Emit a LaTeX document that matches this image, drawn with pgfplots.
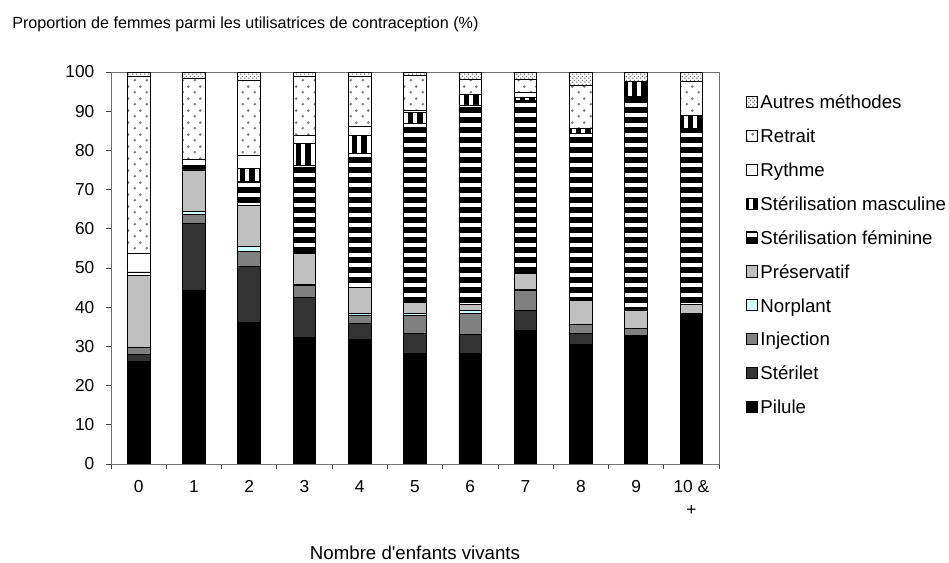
\documentclass[border=0pt]{standalone}
\usepackage{fontspec}
\setmainfont{Liberation Sans}
\usepackage{pgfplots}
\pgfplotsset{compat=1.18}
\usepackage{pgfplotstable}
\usetikzlibrary{patterns}

\pgfdeclarepatternformonly{hstripes}{\pgfqpoint{-0.2pt}{0pt}}{\pgfqpoint{3.2pt}{7.5pt}}{\pgfqpoint{3pt}{7.5pt}}{%
  \pgfpathrectangle{\pgfqpoint{-0.2pt}{0pt}}{\pgfqpoint{3.4pt}{4.5pt}}\pgfusepath{fill}}
\pgfdeclarepatternformonly{vstripes}{\pgfqpoint{0pt}{-0.2pt}}{\pgfqpoint{7pt}{3.2pt}}{\pgfqpoint{7pt}{3pt}}{%
  \pgfpathrectangle{\pgfqpoint{2pt}{-0.2pt}}{\pgfqpoint{3pt}{3.4pt}}\pgfusepath{fill}}
\pgfdeclarepatternformonly{sparsedots}{\pgfqpoint{0pt}{0pt}}{\pgfqpoint{9pt}{9pt}}{\pgfqpoint{9pt}{9pt}}{%
  \pgfpathcircle{\pgfqpoint{2.25pt}{2.25pt}}{1.2pt}\pgfpathcircle{\pgfqpoint{6.75pt}{6.75pt}}{1.2pt}\pgfusepath{fill}}
\pgfdeclarepatternformonly{densedots}{\pgfqpoint{0pt}{0pt}}{\pgfqpoint{3pt}{3pt}}{\pgfqpoint{3pt}{3pt}}{%
  \pgfpathcircle{\pgfqpoint{0.75pt}{0.75pt}}{0.7pt}\pgfpathcircle{\pgfqpoint{2.25pt}{2.25pt}}{0.7pt}\pgfusepath{fill}}

\definecolor{cSterilet}{HTML}{333333}
\definecolor{cInjection}{HTML}{808080}
\definecolor{cNorplant}{HTML}{CCFFFF}
\definecolor{cPreserv}{HTML}{C0C0C0}

\pgfplotstableread{
x pil ste inj nor pre fem mas ryt ret aut
0 26.1 1.9 1.8 0 18.4 0.8 0 4.7 45.3 1.0
1 44.4 17.0 2.3 0.7 10.6 0.8 0.3 1.5 20.8 1.6
2 36.0 14.5 3.7 1.2 10.5 6.1 3.4 3.2 19.2 2.2
3 32.2 10.2 3.1 0.4 7.8 22.5 5.6 2.0 15.0 1.2
4 31.8 4.1 2.1 0.3 6.7 34.3 4.4 2.4 12.7 1.2
5 28.2 5.1 4.7 0.3 2.9 45.7 2.7 0.6 9.0 0.8
6 28.2 4.9 5.3 0.7 1.5 51.0 2.6 0.2 3.6 2.0
7 34.0 5.1 5.3 0.2 4.0 44.1 0.8 1.2 3.5 1.8
8 30.4 2.8 2.3 0 6.2 42.7 1.2 0 11.1 3.3
9 32.9 0 1.7 0 4.7 54.4 3.8 0 0 2.5
10 38.4 0 0 0 2.2 45.0 3.4 0 8.5 2.5
}\data

\newcommand{\titlefont}{\fontsize{12.1}{14.5}\selectfont}
\newcommand{\tickfont}{\fontsize{13}{17}\selectfont}
\newcommand{\bigfont}{\fontsize{14}{16.8}\selectfont}

\begin{document}
\begin{tikzpicture}
\useasboundingbox (0,0) rectangle (711.75pt,422.25pt);
\node[anchor=west, font=\titlefont, inner sep=0pt] at (9pt,404pt) {Proportion de femmes parmi les utilisatrices de contraception (\%)};
\begin{axis}[
  at={(83.25pt,74.25pt)}, anchor=south west,
  scale only axis, width=456pt, height=294pt,
  font=\tickfont,
  /pgf/number format/assume math mode=true,
  ybar stacked, bar width=17pt,
  xmin=-0.5, xmax=10.5, ymin=0, ymax=100,
  xtick={0,...,10},
  xticklabels={0,1,2,3,4,5,6,7,8,9,{10 \&\\+}},
  xticklabel style={align=center, yshift=-5pt},
  minor xtick={-0.5,0.5,...,10.5},
  major x tick style={draw=none},
  ytick={0,10,...,100},
  yticklabel style={xshift=-5pt},
  tick align=outside,
  xtick pos=bottom, ytick pos=left,
  major tick length=4pt, minor tick length=4pt,
  tick style={black!75, line width=0.6pt},
  axis line style={black!55, line width=0.6pt},
  xlabel={Nombre d\textquotesingle enfants vivants},
  xlabel style={font=\bigfont, at={(axis description cs:0.5,-0.227)}, anchor=center},
  every axis plot/.append style={draw=black, line width=0.6pt},
  reverse legend,
  legend cell align=left,
  legend image code/.code={\draw[#1, line width=0.6pt] (0pt,-2.5pt) rectangle (8.3pt,5.8pt); \path (9.6pt,0pt);},
  legend style={font=\bigfont, at={(1.037,0.95)}, anchor=north west, draw=none, fill=none,
    row sep=10.8pt, nodes={inner sep=0.8pt, text height=10pt, text depth=3pt, anchor=west}},
]
\addplot[fill=black] table[x=x, y=pil] {\data};
\addplot[fill=cSterilet] table[x=x, y=ste] {\data};
\addplot[fill=cInjection] table[x=x, y=inj] {\data};
\addplot[fill=cNorplant] table[x=x, y=nor] {\data};
\addplot[fill=cPreserv] table[x=x, y=pre] {\data};
\addplot[fill=white, postaction={pattern=hstripes, pattern color=black}] table[x=x, y=fem] {\data};
\addplot[fill=black, postaction={pattern=vstripes, pattern color=white}] table[x=x, y=mas] {\data};
\addplot[fill=white] table[x=x, y=ryt] {\data};
\addplot[fill=white, postaction={pattern=sparsedots, pattern color=black!50}] table[x=x, y=ret] {\data};
\addplot[fill=white, postaction={pattern=densedots, pattern color=black!55}] table[x=x, y=aut] {\data};
\legend{Pilule, Stérilet, Injection, Norplant, Préservatif, Stérilisation féminine, Stérilisation masculine, Rythme, Retrait, Autres méthodes}
\end{axis}
\end{tikzpicture}
\end{document}
